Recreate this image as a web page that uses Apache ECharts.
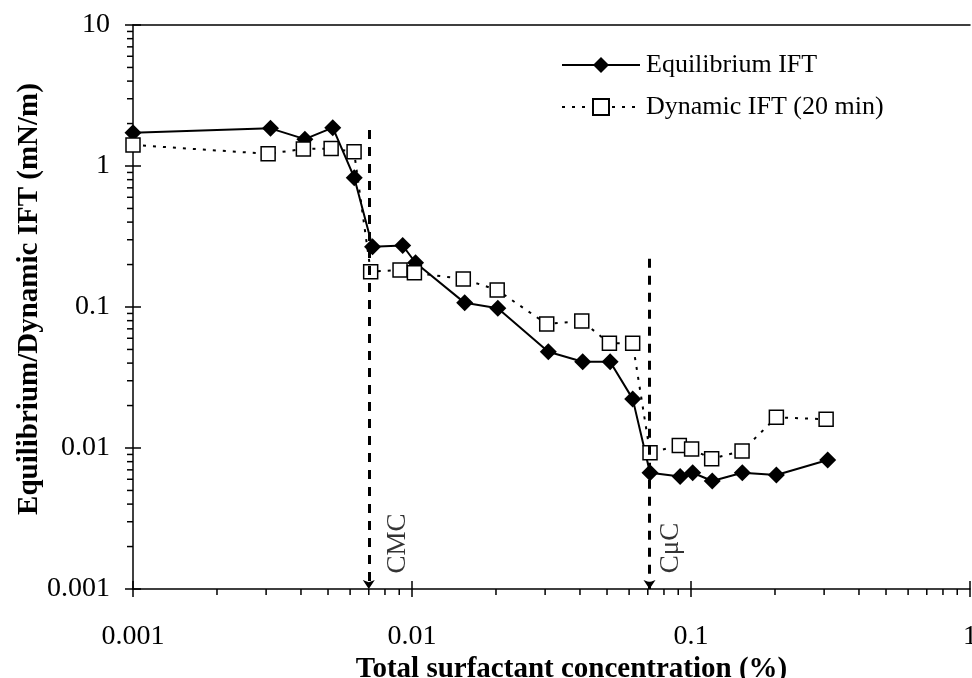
<!DOCTYPE html>
<html><head><meta charset="utf-8">
<script src="https://cdn.jsdelivr.net/npm/echarts@6/dist/echarts.min.js"></script>
<style>html,body{margin:0;padding:0;background:#fff;overflow:hidden}#c{position:absolute;left:0;top:0;width:972px;height:678px}</style>
</head><body><div id="c"></div>
<script>
// ---- data ----
const eqX = [0.001, 0.00311, 0.00413, 0.0052, 0.00621, 0.00722, 0.00926, 0.0103, 0.01545, 0.0203, 0.0308, 0.0409, 0.0513, 0.0618, 0.0713, 0.0914, 0.1014, 0.1192, 0.1527, 0.2023, 0.309];
const eqY = [1.72, 1.85, 1.55, 1.87, 0.826, 0.268, 0.273, 0.206, 0.107, 0.098, 0.0482, 0.0409, 0.0409, 0.0223, 0.00668, 0.00627, 0.00668, 0.00583, 0.00668, 0.00644, 0.00822];
const dynX = [0.001, 0.00305, 0.00408, 0.00513, 0.0062, 0.00711, 0.00906, 0.0102, 0.01527, 0.0202, 0.0304, 0.0406, 0.0510, 0.0618, 0.0713, 0.0908, 0.1005, 0.1186, 0.1524, 0.2023, 0.305];
const dynY = [1.41, 1.22, 1.32, 1.33, 1.26, 0.178, 0.183, 0.175, 0.158, 0.132, 0.0757, 0.0796, 0.0553, 0.0553, 0.00927, 0.0104, 0.00984, 0.00839, 0.00953, 0.0165, 0.016];
const seriesNames = ['Equilibrium IFT', 'Dynamic IFT (20 min)'];

const xTicks = [0.001, 0.01, 0.1, 1];
const xTickLabels = ['0.001', '0.01', '0.1', '1'];
const yTicks = [0.001, 0.01, 0.1, 1, 10];
const yTickLabels = ['0.001', '0.01', '0.1', '1', '10'];
const xMinorTicks = [0.002,0.003,0.004,0.005,0.006,0.007,0.008,0.009,0.02,0.03,0.04,0.05,0.06,0.07,0.08,0.09,0.2,0.3,0.4,0.5,0.6,0.7,0.8,0.9];
const yMinorTicks = [0.002,0.003,0.004,0.005,0.006,0.007,0.008,0.009,0.02,0.03,0.04,0.05,0.06,0.07,0.08,0.09,0.2,0.3,0.4,0.5,0.6,0.7,0.8,0.9,2,3,4,5,6,7,8,9];

// vertical markers: name, x position, top of dashed line
const markerNames = ['CMC', 'CμC'];
const markerX = [0.007, 0.071];
const markerTop = [1.8, 0.22];
const markerLabelX = [0.0089, 0.085];
const markerLabelY = [0.0021, 0.00195];

const X_MIN = 0.001, X_MAX = 1, Y_MIN = 0.001, Y_MAX = 10;
const FONT = "'Liberation Serif', 'Times New Roman', serif";

function labelFor(ticks, labels) {
  return function (v) {
    for (let i = 0; i < ticks.length; i++) {
      if (Math.abs(Math.log10(v / ticks[i])) < 1e-6) return labels[i];
    }
    return '';
  };
}

function tickRenderer(dim, len, width) {
  return function (params, api) {
    const p = api.coord([api.value(0), api.value(1)]);
    if (dim === 'x') {
      return { type: 'line', shape: { x1: p[0], y1: p[1], x2: p[0], y2: p[1] + len }, style: { stroke: '#000', lineWidth: width } };
    }
    return { type: 'line', shape: { x1: p[0], y1: p[1], x2: p[0] - len, y2: p[1] }, style: { stroke: '#000', lineWidth: width } };
  };
}

const chart = echarts.init(document.getElementById('c'), null, { renderer: 'canvas' });
const option = {
  animation: false,
  backgroundColor: '#fff',
  textStyle: { fontFamily: FONT, color: '#000' },
  grid: { left: 133, right: 2, top: 25, bottom: 89, containLabel: false, outerBoundsMode: 'none' },
  legend: {
    data: seriesNames,
    orient: 'vertical',
    left: 556,
    top: 47,
    itemWidth: 78,
    itemHeight: 20,
    itemGap: 16,
    textStyle: { fontFamily: FONT, fontSize: 26, color: '#000', padding: [0, 0, 0, 1] },
    selectedMode: false
  },
  xAxis: [{
    type: 'log', logBase: 10, min: X_MIN, max: X_MAX,
    name: 'Total surfactant concentration (%)',
    nameLocation: 'middle', nameGap: 66, nameMoveOverlap: false,
    nameTextStyle: { fontFamily: FONT, fontSize: 29, fontWeight: 'bold', color: '#000', padding: [0, 0, 0, 40] },
    axisLine: { lineStyle: { color: '#000', width: 1.5 } },
    axisTick: { show: true, inside: false, length: 8, lineStyle: { color: '#000', width: 1.5 } },
    axisLabel: { formatter: labelFor(xTicks, xTickLabels), fontFamily: FONT, fontSize: 28, color: '#000', margin: 34 },
    splitLine: { show: false }, minorTick: { show: false }
  }, {
    type: 'log', logBase: 10, min: X_MIN, max: X_MAX, position: 'top',
    axisLine: { show: true, lineStyle: { color: '#000', width: 1.5 } },
    axisTick: { show: false }, axisLabel: { show: false }, splitLine: { show: false }
  }],
  yAxis: [{
    type: 'log', logBase: 10, min: Y_MIN, max: Y_MAX,
    name: 'Equilibrium/Dynamic IFT (mN/m)',
    nameLocation: 'middle', nameGap: 89, nameRotate: 90, nameMoveOverlap: false,
    nameTextStyle: { fontFamily: FONT, fontSize: 29, fontWeight: 'bold', color: '#000', padding: [0, 0, 0, 16] },
    axisLine: { lineStyle: { color: '#000', width: 1.5 } },
    axisTick: { show: true, inside: false, length: 8, lineStyle: { color: '#000', width: 1.5 } },
    axisLabel: { formatter: labelFor(yTicks, yTickLabels), fontFamily: FONT, fontSize: 28, color: '#000', margin: 23 },
    splitLine: { show: false }, minorTick: { show: false }
  }],
  series: [
    {
      name: seriesNames[0], type: 'line',
      data: eqX.map((x, i) => [x, eqY[i]]),
      symbol: 'diamond', symbolSize: 17,
      itemStyle: { color: '#000' },
      lineStyle: { color: '#000', width: 2 },
      z: 3,
      markLine: {
        silent: true, symbol: ['none', 'arrow'], symbolSize: 9, precision: 6,
        lineStyle: { color: '#000', type: [9, 8], width: 3 },
        label: { show: false },
        data: markerX.map((x, i) => [{ coord: [x, markerTop[i]] }, { coord: [x, Y_MIN] }])
      }
    },
    {
      name: seriesNames[1], type: 'line',
      data: dynX.map((x, i) => [x, dynY[i]]),
      symbol: 'rect', symbolSize: 14,
      itemStyle: { color: '#fff', borderColor: '#000', borderWidth: 1.5 },
      lineStyle: { color: '#000', width: 2, type: [3, 7] },
      z: 4
    },
    {
      name: 'markers', type: 'scatter', symbolSize: 1,
      itemStyle: { color: 'rgba(0,0,0,0)' },
      data: markerNames.map((n, i) => ({ name: n, value: [markerLabelX[i], markerLabelY[i]] })),
      label: { show: true, position: 'inside', formatter: '{b}', rotate: 90, fontFamily: FONT, fontSize: 27, color: '#000' },
      silent: true
    },
    {
      name: 'xMinor', type: 'custom', silent: true,
      data: xMinorTicks.map(v => [v, Y_MIN]),
      renderItem: tickRenderer('x', 6, 1.5)
    },
    {
      name: 'xMajorIn', type: 'custom', silent: true,
      data: xTicks.map(v => [v, Y_MIN]),
      renderItem: tickRenderer('x', -8, 1.5)
    },
    {
      name: 'yMinor', type: 'custom', silent: true,
      data: yMinorTicks.map(v => [X_MIN, v]),
      renderItem: tickRenderer('y', 6, 1.5)
    },
    {
      name: 'yMajorIn', type: 'custom', silent: true,
      data: yTicks.map(v => [X_MIN, v]),
      renderItem: tickRenderer('y', -8, 1.5)
    }
  ]
};
chart.setOption(option);
</script>
</body></html>
